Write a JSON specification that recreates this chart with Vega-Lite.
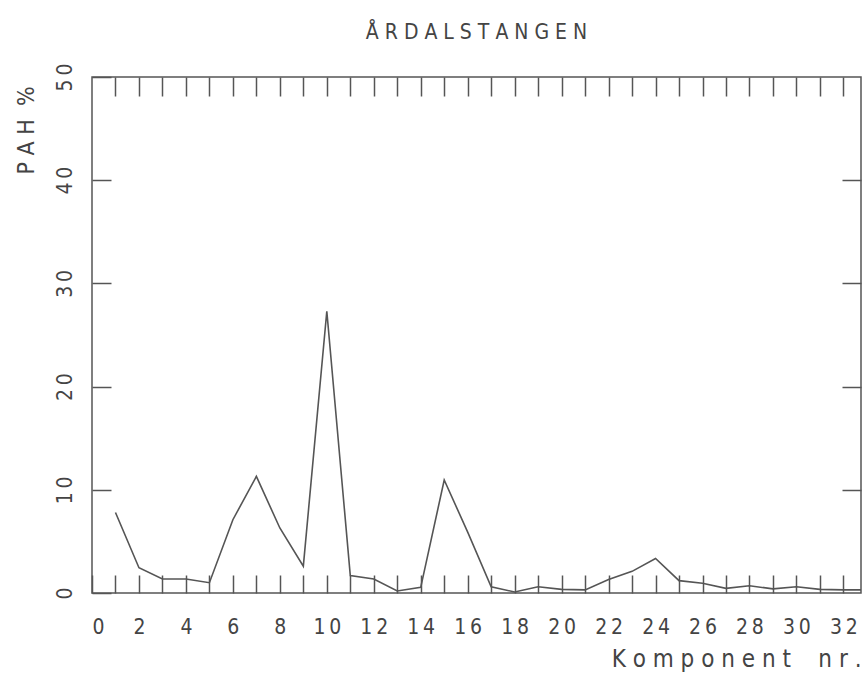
{
  "$schema": "https://vega.github.io/schema/vega-lite/v6.json",
  "width": 769,
  "height": 516,
  "autosize": {"type": "none"},
  "padding": {"left": 92, "top": 77, "right": 2, "bottom": 80},
  "background": "white",
  "config": {
    "view": {"stroke": "#555", "strokeWidth": 1.5},
    "font": "DejaVu Sans Condensed",
    "axis": {"grid": false, "domain": false, "tickColor": "#555", "tickWidth": 1.5, "labelColor": "#444", "titleColor": "#444", "labelFont": "DejaVu Sans Condensed", "titleFont": "DejaVu Sans Condensed", "titleFontWeight": "normal"}
  },
  "title": {"text": "Å R D A L S T A N G E N", "fontSize": 21, "font": "DejaVu Sans Condensed", "fontWeight": "normal", "color": "#444", "anchor": "middle", "offset": 20},
  "data": {"values": [
    {"x": 1, "y": 7.8}, {"x": 2, "y": 2.45}, {"x": 3, "y": 1.35}, {"x": 4, "y": 1.35},
    {"x": 5, "y": 1.0}, {"x": 6, "y": 7.1}, {"x": 7, "y": 11.3}, {"x": 8, "y": 6.3},
    {"x": 9, "y": 2.6}, {"x": 10, "y": 27.3}, {"x": 11, "y": 1.7}, {"x": 12, "y": 1.35},
    {"x": 13, "y": 0.2}, {"x": 14, "y": 0.55}, {"x": 15, "y": 10.95}, {"x": 16, "y": 5.9},
    {"x": 17, "y": 0.6}, {"x": 18, "y": 0.1}, {"x": 19, "y": 0.6}, {"x": 20, "y": 0.35},
    {"x": 21, "y": 0.3}, {"x": 22, "y": 1.3}, {"x": 23, "y": 2.1}, {"x": 24, "y": 3.35},
    {"x": 25, "y": 1.2}, {"x": 26, "y": 0.95}, {"x": 27, "y": 0.45}, {"x": 28, "y": 0.7},
    {"x": 29, "y": 0.4}, {"x": 30, "y": 0.6}, {"x": 31, "y": 0.35}, {"x": 32, "y": 0.3},
    {"x": 33, "y": 0.3}
  ]},
  "resolve": {"axis": {"x": "independent", "y": "independent"}},
  "layer": [
    {
      "mark": {"type": "line", "color": "#555", "strokeWidth": 1.6, "clip": true},
      "encoding": {
        "x": {"field": "x", "type": "quantitative",
          "scale": {"domain": [0, 32.75], "nice": false, "zero": false},
          "axis": {"orient": "bottom", "values": [0,1,2,3,4,5,6,7,8,9,10,11,12,13,14,15,16,17,18,19,20,21,22,23,24,25,26,27,28,29,30,31,32],
            "tickSize": -18, "labelPadding": 41, "labelFontSize": 21,
            "labelExpr": "datum.value % 2 == 0 ? join(split(datum.label, ''), '\u2009') : ''",
            "title": "K o m p o n e n t \u00a0 \u00a0n r .", "titleFontSize": 24, "titleAlign": "right", "titleBaseline": "alphabetic", "titleX": 769, "titleY": 73}},
        "y": {"field": "y", "type": "quantitative",
          "scale": {"domain": [0, 50], "nice": false},
          "axis": {"orient": "left", "values": [0, 10, 20, 30, 40, 50], "tickSize": -19,
            "labelAngle": 270, "labelAlign": "center", "labelBaseline": "bottom", "labelPadding": 36, "labelFontSize": 21,
            "labelExpr": "join(split(datum.label, ''), '\u2009')",
            "title": "P A H \u00a0%", "titleFontSize": 23, "titleAngle": 270, "titleAlign": "center", "titleBaseline": "middle", "titleX": -66, "titleY": 53}}
      }
    },
    {
      "mark": {"type": "line", "strokeOpacity": 0},
      "encoding": {
        "x": {"field": "x", "type": "quantitative",
          "axis": {"orient": "top", "values": [1,2,3,4,5,6,7,8,9,10,11,12,13,14,15,16,17,18,19,20,21,22,23,24,25,26,27,28,29,30,31,32],
            "tickSize": -19, "labels": false, "title": null}},
        "y": {"field": "y", "type": "quantitative",
          "axis": {"orient": "right", "values": [10, 20, 30, 40], "tickSize": -19, "labels": false, "title": null}}
      }
    }
  ]
}
